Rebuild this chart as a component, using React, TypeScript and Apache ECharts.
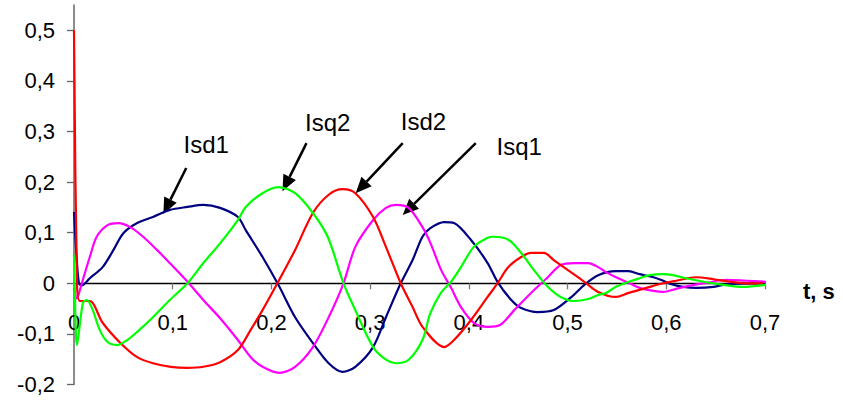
import React, { useEffect, useRef } from "react";
import * as echarts from "echarts";

// Isd1 (navy)
const isd1T = [0, 0.002, 0.005, 0.008, 0.016, 0.029, 0.040, 0.050, 0.064, 0.080, 0.097, 0.115, 0.131, 0.148, 0.166, 0.174, 0.191, 0.207, 0.224, 0.242, 0.258, 0.272, 0.285, 0.303, 0.316, 0.331, 0.343, 0.353, 0.361, 0.375, 0.385, 0.402, 0.419, 0.429, 0.443, 0.453, 0.470, 0.486, 0.504, 0.517, 0.531, 0.549, 0.562, 0.573, 0.587, 0.597, 0.607, 0.617, 0.630, 0.648, 0.664, 0.698];
const isd1V = [0.141, 0.07, 0.0, -0.004, 0.010, 0.032, 0.066, 0.099, 0.119, 0.131, 0.145, 0.151, 0.155, 0.149, 0.131, 0.105, 0.052, -0.003, -0.067, -0.118, -0.158, -0.175, -0.165, -0.126, -0.067, 0, 0.046, 0.092, 0.109, 0.121, 0.119, 0.086, 0.040, 0.003, -0.033, -0.049, -0.057, -0.053, -0.027, -0.003, 0.016, 0.024, 0.024, 0.018, 0.012, 0.005, -0.003, -0.007, -0.009, -0.007, -0.001, 0];

// Isq2 (green)
const isq2T = [0, 0.001, 0.003, 0.009, 0.013, 0.019, 0.026, 0.034, 0.044, 0.054, 0.064, 0.080, 0.097, 0.115, 0.131, 0.148, 0.166, 0.174, 0.191, 0.207, 0.224, 0.242, 0.257, 0.273, 0.285, 0.303, 0.316, 0.326, 0.339, 0.353, 0.361, 0.372, 0.382, 0.392, 0.405, 0.419, 0.425, 0.440, 0.453, 0.466, 0.480, 0.493, 0.507, 0.521, 0.531, 0.539, 0.549, 0.562, 0.573, 0.583, 0.597, 0.607, 0.620, 0.638, 0.658, 0.678, 0.701];
const isq2V = [0.056, -0.03, -0.122, -0.039, -0.033, -0.053, -0.092, -0.116, -0.122, -0.112, -0.096, -0.067, -0.033, 0, 0.040, 0.079, 0.125, 0.151, 0.178, 0.190, 0.178, 0.139, 0.092, 0, -0.053, -0.126, -0.151, -0.158, -0.151, -0.112, -0.059, -0.018, 0.003, 0.032, 0.072, 0.090, 0.092, 0.086, 0.060, 0.026, -0.007, -0.027, -0.035, -0.031, -0.023, -0.019, -0.007, 0.003, 0.010, 0.016, 0.018, 0.016, 0.010, 0.003, -0.003, -0.007, -0.003];

// Isd2 (red)
const isd2T = [0, 0.003, 0.006, 0.016, 0.029, 0.047, 0.064, 0.080, 0.098, 0.115, 0.131, 0.148, 0.166, 0.179, 0.191, 0.206, 0.224, 0.242, 0.258, 0.272, 0.285, 0.303, 0.316, 0.331, 0.343, 0.353, 0.375, 0.385, 0.402, 0.419, 0.429, 0.440, 0.453, 0.463, 0.476, 0.486, 0.504, 0.517, 0.531, 0.549, 0.562, 0.580, 0.597, 0.610, 0.630, 0.648, 0.664, 0.681, 0.698];
const isd2V = [0.5, 0.0, -0.035, -0.035, -0.078, -0.118, -0.146, -0.158, -0.165, -0.167, -0.165, -0.156, -0.132, -0.092, -0.053, 0, 0.066, 0.139, 0.175, 0.186, 0.178, 0.131, 0.072, 0, -0.047, -0.086, -0.126, -0.112, -0.073, -0.027, 0, 0.032, 0.052, 0.060, 0.060, 0.046, 0.021, 0.003, -0.017, -0.027, -0.019, -0.009, 0, 0.005, 0.012, 0.008, 0.003, 0, 0];

// Isq1 (magenta)
const isq1T = [0, 0.003, 0.006, 0.011, 0.016, 0.023, 0.034, 0.045, 0.057, 0.070, 0.084, 0.097, 0.115, 0.131, 0.148, 0.166, 0.179, 0.191, 0.208, 0.224, 0.242, 0.258, 0.273, 0.285, 0.303, 0.316, 0.326, 0.339, 0.353, 0.361, 0.372, 0.382, 0.392, 0.405, 0.419, 0.432, 0.446, 0.463, 0.480, 0.493, 0.507, 0.521, 0.531, 0.539, 0.549, 0.562, 0.573, 0.587, 0.597, 0.610, 0.623, 0.641, 0.661, 0.681, 0.701];
const isq1V = [-0.01, -0.03, -0.013, 0.020, 0.052, 0.092, 0.115, 0.119, 0.111, 0.092, 0.066, 0.040, 0.003, -0.033, -0.069, -0.112, -0.146, -0.165, -0.177, -0.165, -0.126, -0.067, 0, 0.072, 0.125, 0.149, 0.155, 0.149, 0.111, 0.080, 0.026, -0.009, -0.047, -0.078, -0.086, -0.082, -0.053, -0.019, 0.012, 0.036, 0.040, 0.040, 0.032, 0.022, 0.012, 0.001, -0.009, -0.015, -0.017, -0.011, -0.005, 0.001, 0.007, 0.005, 0.003];

const tMin = 0;
const tMax = 0.7;
const yMin = -0.2;
const yMax = 0.55;
const yTicks = [-0.2, -0.1, 0, 0.1, 0.2, 0.3, 0.4, 0.5];
const timeAxisName = "t, s";

// Callout labels: text anchor and arrow start/tip, all in (t, value) units
const labelNames = ["Isd1", "Isq2", "Isd2", "Isq1"];
const labelAt = [[0.134, 0.274], [0.257, 0.318], [0.354, 0.319], [0.451, 0.270]];
const arrowFrom = [[0.1137, 0.228], [0.2355, 0.277], [0.333, 0.277], [0.407, 0.277]];
const arrowTo = [[0.0905, 0.137], [0.2112, 0.182], [0.2853, 0.178], [0.333, 0.135]];

const zip = (t: number[], v: number[]) => t.map((x, i) => [x, v[i]]);
const fmt = (v: number) => (Math.abs(v) < 1e-9 ? "0" : (Math.round(v * 10) / 10).toFixed(1).replace(".", ","));

const FONT = '"Liberation Sans", Arial, sans-serif';
const GRID_TOP = 5;
const GRID_BOTTOM = 18.5;
const HEIGHT = 403;

export default function App() {
  const ref = useRef<HTMLDivElement>(null);

  useEffect(() => {
    if (!ref.current) return;
    const chart = echarts.init(ref.current, null, { renderer: "svg" });

    // The time axis runs along value 0: shift it up from the grid's bottom edge.
    const plotH = HEIGHT - GRID_TOP - GRID_BOTTOM;
    const zeroOffset = (plotH * (0 - yMin)) / (yMax - yMin);

    const line = (name: string, color: string, t: number[], v: number[]) => ({
      name,
      type: "line",
      data: zip(t, v),
      showSymbol: false,
      smooth: 0.3,
      lineStyle: { color, width: 2.2 },
      itemStyle: { color },
    });

    chart.setOption({
      animation: false,
      backgroundColor: "#fff",
      grid: { left: 74, right: 78, top: GRID_TOP, bottom: GRID_BOTTOM, containLabel: false, outerBoundsMode: "none" },
      xAxis: {
        type: "value",
        min: tMin,
        max: tMax,
        interval: 0.1,
        position: "bottom",
        offset: -zeroOffset,
        axisLine: { onZero: false, lineStyle: { color: "#000", width: 1.3 } },
        axisTick: { show: true, length: 6, lineStyle: { color: "#777", width: 1.3 } },
        axisLabel: { fontFamily: FONT, fontSize: 22, color: "#000", margin: 28, formatter: fmt },
        splitLine: { show: false },
      },
      yAxis: {
        type: "value",
        min: yMin,
        max: yMax,
        interval: 0.1,
        axisLine: { show: true, onZero: false, lineStyle: { color: "#666", width: 1.5 } },
        axisTick: { show: true, length: 7, customValues: yTicks, lineStyle: { color: "#666", width: 1.3 } },
        axisLabel: { fontFamily: FONT, fontSize: 22, color: "#000", margin: 19, padding: [4, 0, 0, 0], customValues: yTicks, formatter: fmt },
        splitLine: { show: false },
      },
      series: [
        line("Isd1", "#000080", isd1T, isd1V),
        line("Isq1", "#ff00ff", isq1T, isq1V),
        line("Isd2", "#ff0000", isd2T, isd2V),
        line("Isq2", "#00ff00", isq2T, isq2V),
      ],
    });

    const px = (p: number[]) => chart.convertToPixel({ gridIndex: 0 }, p) as number[];
    const graphics: any[] = [];

    // Time-axis title, just past the end of the axis and a little below it
    const [axEndX, axEndY] = px([tMax, 0]);
    graphics.push({
      type: "text",
      x: axEndX + 38,
      y: axEndY + 8,
      style: { text: timeAxisName, fill: "#000", font: `bold 22px ${FONT}`, align: "left", verticalAlign: "middle" },
    });

    labelNames.forEach((name, i) => {
      const [tx, ty] = px(labelAt[i]);
      graphics.push({
        type: "text",
        x: tx,
        y: ty,
        style: { text: name, fill: "#000", font: `24px ${FONT}`, align: "center", verticalAlign: "middle" },
      });
      const [sx, sy] = px(arrowFrom[i]);
      const [ex, ey] = px(arrowTo[i]);
      const dx = ex - sx, dy = ey - sy;
      const len = Math.hypot(dx, dy);
      const ux = dx / len, uy = dy / len;
      const L = 16, W = 7;
      const bx = ex - ux * L, by = ey - uy * L;
      graphics.push({
        type: "line",
        shape: { x1: sx, y1: sy, x2: bx, y2: by },
        style: { stroke: "#000", lineWidth: 2.5 },
      });
      graphics.push({
        type: "polygon",
        shape: { points: [[ex, ey], [bx - uy * W, by + ux * W], [bx + uy * W, by - ux * W]] },
        style: { fill: "#000" },
      });
    });
    chart.setOption({ graphic: graphics });

    return () => chart.dispose();
  }, []);

  return <div ref={ref} style={{ width: 843, height: 403, position: "absolute", left: 0, top: 0 }} />;
}
